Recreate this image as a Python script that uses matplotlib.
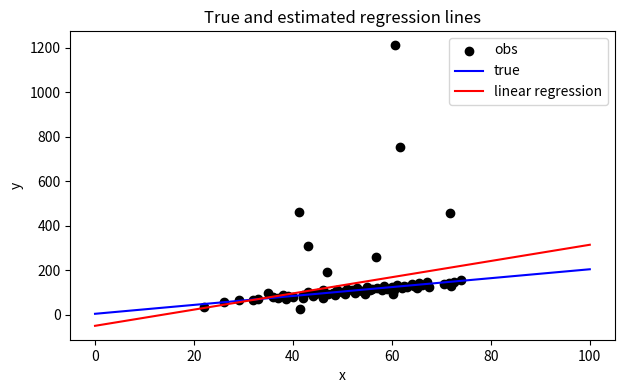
import numpy as np
import matplotlib
matplotlib.use("Agg")
import matplotlib.pyplot as plt

plt.rcParams['font.family'] = ['Noto Sans CJK JP', 'DejaVu Sans']

obs_x = [22, 26, 29, 32, 33, 35, 36, 37, 38, 38.5, 39, 40, 41.5, 42, 42, 43, 44, 44.5,
         45, 46, 46, 47, 48, 48.5, 49, 50, 50.5, 51, 52, 52.5, 53, 54, 54.5, 55, 55.5,
         56, 57, 58, 58.5, 59, 60, 60.2, 60.5, 61, 62, 62.5, 63, 64, 64.5, 65, 65.5,
         66, 67, 67.5, 70.5, 71.5, 72, 72.5, 74,
         60.6, 61.6, 41.2, 71.7, 43.0, 56.7, 46.8]
obs_y = [35, 58, 68, 65, 72, 98, 80, 78, 90, 72, 85, 80, 28, 75, 90, 105, 85, 95,
         100, 78, 110, 95, 100, 88, 110, 105, 95, 118, 112, 100, 120, 108, 95, 125, 112,
         118, 120, 110, 128, 115, 125, 95, 110, 135, 120, 130, 125, 140, 130, 120, 145,
         135, 148, 125, 140, 145, 132, 150, 155,
         1212, 752, 463, 459, 310, 262, 194]

line_x = [0, 100]
true_intercept, true_slope = 5, 2.0
fit_intercept, fit_slope = -49, 3.64

fig = plt.figure(figsize=(6.22, 3.92), dpi=100)
ax = fig.add_axes([0.113, 0.133, 0.875, 0.788])
ax.scatter(obs_x, obs_y, color='black', label='obs')
lx = np.array(line_x, dtype=float)
ax.plot(lx, true_intercept + true_slope * lx, color='blue', label='true')
ax.plot(lx, fit_intercept + fit_slope * lx, color='red', label='linear regression')
ax.set_title('True and estimated regression lines')
ax.set_xlabel('x')
ax.set_ylabel('y')
ax.legend(loc='upper right')
fig.savefig('out.png', dpi=100)
